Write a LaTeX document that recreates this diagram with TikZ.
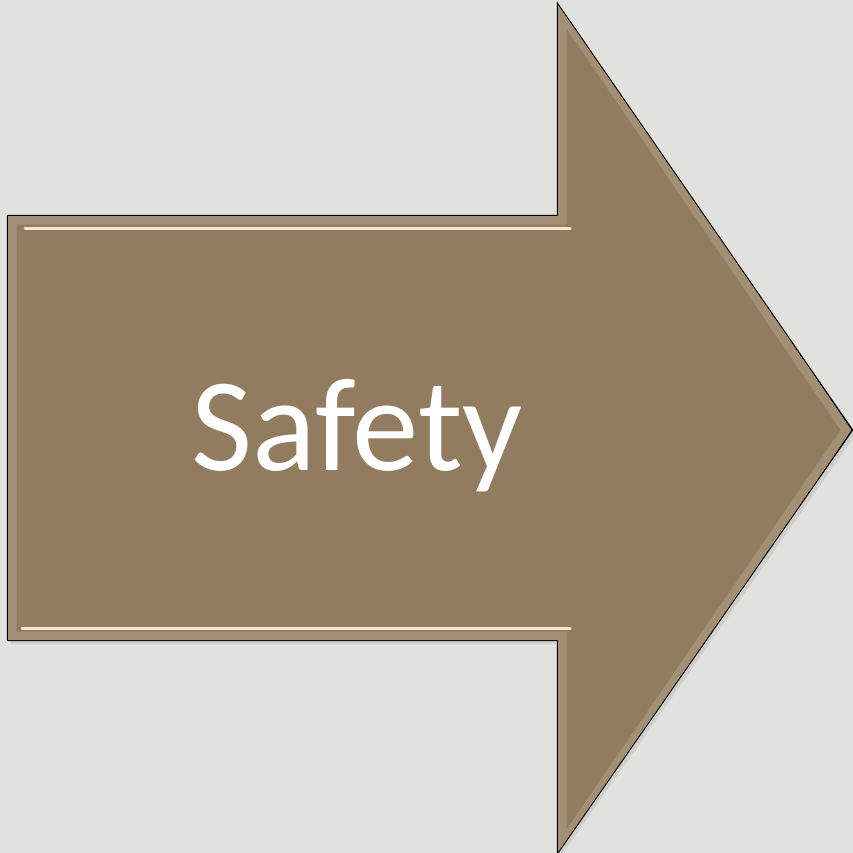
\documentclass[tikz,border=0pt]{standalone}
\usepackage{fontspec}
\setmainfont{Carlito}
\definecolor{bg}{HTML}{E1E2DD}
\definecolor{arrowfill}{HTML}{917C5F}
\definecolor{bevel}{HTML}{A38F73}
\definecolor{hilite}{HTML}{F7E6C8}
\tikzset{
  arrowshape/.style={fill=arrowfill, draw=black, line width=2.2pt, line join=miter},
  bevelline/.style={draw=bevel, line width=9pt, line join=miter},
  hiline/.style={draw=hilite, line width=3pt, line cap=round},
  label/.style={text=white, font=\fontsize{133}{140}\selectfont, inner sep=0pt, anchor=base}
}
\begin{document}
\begin{tikzpicture}[x=1pt,y=-1pt]
\fill[bg] (0,0) rectangle (853,853);
\useasboundingbox (0,0) rectangle (853,853);
% shadow
\fill[black!25, opacity=0.5] (11,220) -- (561,220) -- (561,10) -- (856,434) -- (561,856) -- (561,644) -- (11,644) -- cycle;
% arrow
\draw[arrowshape] (8,216) -- (558,216) -- (558,5) -- (852,430) -- (558,852) -- (558,640) -- (8,640) -- cycle;
% inner bevel
\begin{scope}
\clip (8,216) -- (558,216) -- (558,5) -- (852,430) -- (558,852) -- (558,640) -- (8,640) -- cycle;
\draw[bevelline] (12,220) -- (562,220) -- (562,14) -- (846,430) -- (562,844) -- (562,636) -- (12,636) -- cycle;
\end{scope}
\draw[hiline] (25,228.5) -- (570,228.5);
\draw[hiline] (22,628) -- (570,628);
\node[label] (t) at (357,470) {Safety};
\end{tikzpicture}
\end{document}
